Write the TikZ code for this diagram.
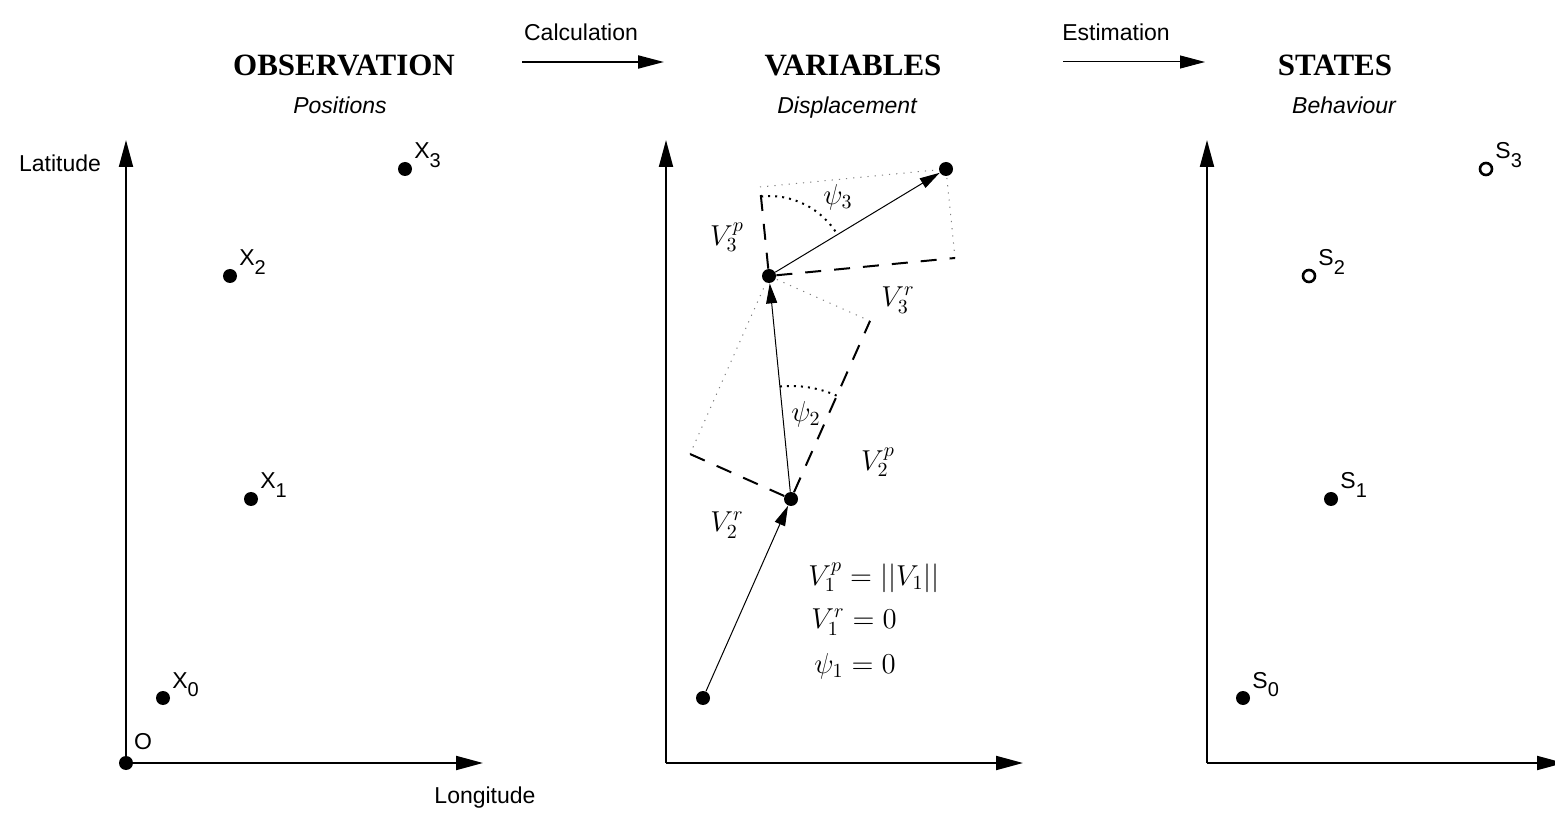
\documentclass[tikz,border=0pt]{standalone}
\usepackage{fontspec}
\setsansfont{Liberation Sans}
\newfontfamily\headfont{Liberation Serif}
\usetikzlibrary{arrows.meta,positioning}
\newcommand\lowsub[1]{\raisebox{-4.5pt}{\fontsize{10}{12}\selectfont #1}}

\begin{document}
\begin{tikzpicture}[x=0.5pt,y=-0.5pt,
  dot/.style={circle, fill=black, inner sep=0pt, minimum size=7pt},
  hollow/.style={circle, draw=black, line width=1.3pt, inner sep=0pt, minimum size=6pt},
  heading/.style={font=\headfont\bfseries\fontsize{15.5}{18}\selectfont, anchor=base},
  subtitle/.style={font=\sffamily\itshape\fontsize{11.5}{14}\selectfont, anchor=base},
  lbl/.style={font=\sffamily\fontsize{11.5}{14}\selectfont, inner sep=0pt},
  mth/.style={font=\fontsize{14}{17}\selectfont, inner sep=0pt},
  axisline/.style={line width=1pt, -{Triangle[length=13.5pt,width=7pt]}},
  vec/.style={line width=0.5pt, -{Triangle[length=10pt,width=5.5pt]}},
  proj/.style={line width=1pt, dash pattern=on 8pt off 6.5pt},
  guide/.style={line width=0.5pt, gray, dash pattern=on 0.6pt off 3pt},
  arcdots/.style={line width=1pt, dash pattern=on 1pt off 2.5pt}]
  \useasboundingbox (0,0) rectangle (1555,818);

  % headings
  \node[heading] (obs) at (344,76) {OBSERVATION};
  \node[subtitle] (pos) at (340,114) {Positions};
  \node[heading] (var) at (853,76) {VARIABLES};
  \node[subtitle] (disp) at (847,114) {Displacement};
  \node[heading] (sta) at (1335,76) {STATES};
  \node[subtitle] (beh) at (1344,114) {Behaviour};

  % transitions
  \coordinate (calcA) at (522,62);
  \coordinate (calcB) at (664,62);
  \draw[line width=1pt, -{Triangle[length=13pt,width=6.5pt]}] (calcA) -- (calcB);
  \node[lbl] (calc) at (581,32) {Calculation};
  \coordinate (estA) at (1063,62);
  \coordinate (estB) at (1205,62);
  \draw[line width=0.5pt, -{Triangle[length=12.5pt,width=6.5pt]}] (estA) -- (estB);
  \node[lbl] (est) at (1116,32) {Estimation};

  % axes
  \foreach \ox/\nm in {126/a, 666/b, 1207/c} {
    \coordinate (o\nm) at (\ox,763);
    \coordinate (y\nm) at (\ox,140);
    \coordinate (x\nm) at (\ox+357,763);
    \draw[axisline] (o\nm) -- (y\nm);
    \draw[axisline] (o\nm) -- (x\nm);
  }
  \node[dot] (O) at (oa) {};
  \node[lbl] (olab) at (143,742) {O};
  \node[lbl] (lat) at (60,163) {Latitude};
  \node[lbl] (lon) at (485,798) {Longitude};

  % observed positions
  \foreach \i/\px/\py in {0/163/698, 1/251/499, 2/230/276, 3/405/169} {
    \node[dot] (x\i) at (\px,\py) {};
    \node[lbl, anchor=base west] (lx\i) at ([shift={(9,-10)}]x\i.center) {X\lowsub{\i}};
  }

  % states
  \node[dot] (s0) at (1243,698) {};
  \node[dot] (s1) at (1331,499) {};
  \node[hollow] (s2) at (1309,276) {};
  \node[hollow] (s3) at (1486,169) {};
  \foreach \i in {0,...,3}
    \node[lbl, anchor=base west] (ls\i) at ([shift={(9,-10)}]s\i.center) {S\lowsub{\i}};

  % displacement variables
  \node[dot] (p0) at (703,698) {};
  \node[dot] (p1) at (791,499) {};
  \node[dot] (p2) at (769,276) {};
  \node[dot] (p3) at (946,169) {};
  \coordinate (f2p) at (870,321);
  \coordinate (f2r) at (690,454);
  \coordinate (f3p) at (760,187);
  \coordinate (f3r) at (955,258);

  \draw[guide] (f2p) -- (p2);
  \draw[guide] (f2r) -- (p2);
  \draw[guide] (f3p) -- (p3);
  \draw[guide] (f3r) -- (p3);
  \draw[proj] (p1) -- (f2p);
  \draw[proj] (p1) -- (f2r);
  \draw[proj] (p2) -- (f3p);
  \draw[proj] (p2) -- (f3r);
  \draw[vec] (p0) -- (p1);
  \draw[vec] (p1) -- (p2);
  \draw[vec] (p2) -- (p3);

  \draw[arcdots] ([shift={(-95.6:113)}]p1.center) arc[start angle=-95.6, end angle=-66.2, radius=113];
  \draw[arcdots] ([shift={(-95.6:80)}]p2.center) arc[start angle=-95.6, end angle=-31.2, radius=80];

  \node[mth] (v3p) at (727,237) {$V_3^p$};
  \node[mth] (v3r) at (898,300) {$V_3^r$};
  \node[mth] (psi3) at (838,197) {$\psi_3$};
  \node[mth] (psi2) at (806,414) {$\psi_2$};
  \node[mth] (v2p) at (878,462) {$V_2^p$};
  \node[mth] (v2r) at (727,525) {$V_2^r$};

  \node[mth, anchor=west] (eq1) at (808,578) {$V_1^p = ||V_1||$};
  \node[mth, anchor=west] (eq2) at (811,622) {$V_1^r = 0$};
  \node[mth, anchor=west] (eq3) at (814,666) {$\psi_1 = 0$};
\end{tikzpicture}
\end{document}
